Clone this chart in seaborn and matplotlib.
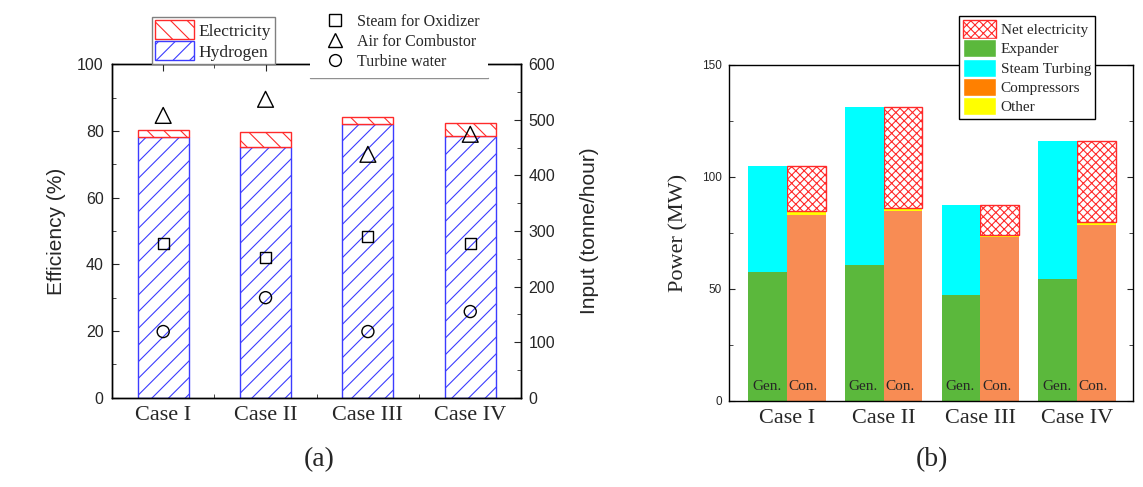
import numpy as np
import pandas as pd
import matplotlib
matplotlib.use('Agg')
import matplotlib.pyplot as plt
import seaborn as sns
from matplotlib.patches import Patch
from matplotlib.lines import Line2D
from matplotlib.ticker import MultipleLocator

# Dados
cases = ['Case I', 'Case II', 'Case III', 'Case IV']

# (a) eficiência (%) e entradas (tonne/hour)
hydrogen = [78.3, 75.1, 82.1, 78.6]
electricity = [2.0, 4.5, 2.2, 3.7]
steam_oxidizer = [277, 252, 290, 278]
air_combustor = [508, 537, 438, 474]
turbine_water = [119, 180, 119, 155]

# (b) potência (MW)
expander = [57.7, 60.9, 47.1, 54.6]
steam_turbing = [47.3, 70.5, 40.6, 61.6]
compressors = [83.1, 84.6, 73.4, 78.4]
other = [1.6, 1.4, 0.7, 1.5]
net_electricity = [20.3, 45.4, 13.6, 36.3]
sides = ['Gen.', 'Con.']

sns.set_style('ticks')
plt.rcParams['font.family'] = ['Liberation Sans', 'DejaVu Sans']
plt.rcParams['hatch.linewidth'] = 0.8
plt.rcParams['xtick.direction'] = 'in'
plt.rcParams['ytick.direction'] = 'in'
SERIF = ['Liberation Serif', 'DejaVu Serif']

blue = '#3c3cff'
red = '#ff2a2a'
green = '#5bb83c'
cyan = '#00ffff'
orange = '#f88c54'
yellow = '#ffff00'

fig = plt.figure(figsize=(11.43, 4.87), dpi=100)
ax1 = fig.add_axes([0.098, 0.1834, 0.3582, 0.6846])
axb = fig.add_axes([0.6378, 0.1766, 0.3535, 0.690])

# ---------- (a) ----------
df_a = pd.DataFrame({'case': cases, 'hydrogen': hydrogen, 'electricity': electricity})
sns.barplot(data=df_a, x='case', y='hydrogen', order=cases, width=0.5, errorbar=None,
            color='white', facecolor='white', edgecolor=blue, hatch='//', linewidth=1, ax=ax1)
sns.barplot(data=df_a, x='case', y='electricity', order=cases, width=0.5, errorbar=None,
            bottom=np.array(hydrogen), color='white', facecolor='white', edgecolor=red,
            hatch='\\\\', linewidth=1, ax=ax1)

ax2 = ax1.twinx()
sns.scatterplot(x=cases, y=steam_oxidizer, marker='s', s=64, facecolor='none',
                edgecolor='black', linewidth=1, ax=ax2, zorder=3)
sns.scatterplot(x=cases, y=air_combustor, marker='^', s=130, facecolor='none',
                edgecolor='black', linewidth=1, ax=ax2, zorder=3)
sns.scatterplot(x=cases, y=turbine_water, marker='o', s=75, facecolor='none',
                edgecolor='black', linewidth=1, ax=ax2, zorder=3)

ax1.set_ylim(0, 100)
ax1.yaxis.set_major_locator(MultipleLocator(20))
ax1.yaxis.set_minor_locator(MultipleLocator(10))
ax2.set_ylim(0, 600)
ax2.yaxis.set_major_locator(MultipleLocator(100))
ax2.yaxis.set_minor_locator(MultipleLocator(50))
ax1.set_xticks(range(len(cases)), labels=cases)
ax1.set_xticks(np.arange(0.5, len(cases) - 1, 1.0), minor=True)
ax1.set_xlim(-0.5, len(cases) - 0.5)

ax1.tick_params(axis='x', which='both', top=True, bottom=True, labelsize=16, pad=6)
ax1.tick_params(axis='x', which='major', length=5)
ax1.tick_params(axis='x', which='minor', length=3)
ax1.tick_params(axis='y', which='both', left=True, right=False, labelsize=11.5, pad=6)
ax1.tick_params(axis='y', which='major', length=5)
ax1.tick_params(axis='y', which='minor', length=3)
ax2.tick_params(axis='y', which='both', right=True, left=False, labelsize=11.5, pad=5)
ax2.tick_params(axis='y', which='major', length=5)
ax2.tick_params(axis='y', which='minor', length=3)
for lab in ax1.get_xticklabels():
    lab.set_fontfamily(SERIF)

ax1.set_xlabel('')
ax1.set_ylabel('Efficiency (%)', fontsize=15, labelpad=8)
ax2.set_ylabel('Input (tonne/hour)', fontsize=15, labelpad=18)
for ax in (ax1, ax2):
    for sp in ax.spines.values():
        sp.set_visible(True)
        sp.set_color('black')
        sp.set_linewidth(1)

# ---------- (b) ----------
df_b = pd.DataFrame({
    'case': cases * 2,
    'side': ['Gen.'] * 4 + ['Con.'] * 4,
    'expander': expander + [0] * 4,
    'steam': steam_turbing + [0] * 4,
    'compressors': [0] * 4 + compressors,
    'other': [0] * 4 + other,
    'net': [0] * 4 + net_electricity,
})
comp_arr = np.array(compressors)
other_top = comp_arr + np.array(other)

layers = [
    ('compressors', np.zeros(4), dict(facecolor=orange, linewidth=0)),
    ('other', comp_arr, dict(facecolor=yellow, linewidth=0)),
    ('net', other_top, dict(facecolor='white', edgecolor=red, hatch='xxxx', linewidth=1)),
    ('expander', np.zeros(4), dict(facecolor=green, linewidth=0)),
    ('steam', np.array(expander), dict(facecolor=cyan, linewidth=0)),
]
for col, bottom, style in layers:
    sns.barplot(data=df_b, x='case', y=col, hue='side', hue_order=sides, order=cases,
                palette=['black', 'black'], dodge=True, width=0.8, errorbar=None,
                bottom=bottom, legend=False, ax=axb, **style)

for i in range(len(cases)):
    axb.text(i - 0.21, 6.5, 'Gen.', ha='center', va='center', fontsize=11, family=SERIF)
    axb.text(i + 0.17, 6.5, 'Con.', ha='center', va='center', fontsize=11, family=SERIF)

axb.set_ylim(0, 150)
axb.set_xlim(-0.6, len(cases) - 0.42)
axb.yaxis.set_major_locator(MultipleLocator(50))
axb.yaxis.set_minor_locator(MultipleLocator(25))
axb.set_xticks(range(len(cases)), labels=cases)
axb.tick_params(axis='x', which='both', bottom=False, top=False, labelsize=16, pad=6)
axb.tick_params(axis='y', which='both', left=True, right=True, labelsize=8.5, pad=5)
axb.tick_params(axis='y', which='major', length=4)
axb.tick_params(axis='y', which='minor', length=3)
for lab in axb.get_xticklabels():
    lab.set_fontfamily(SERIF)
axb.set_xlabel('')
axb.set_ylabel('Power (MW)', fontsize=16, family=SERIF, labelpad=10)
for sp in axb.spines.values():
    sp.set_visible(True)
    sp.set_color('black')
    sp.set_linewidth(1)

# ---------- legendas ----------
h_leg = [Patch(facecolor='white', edgecolor=red, hatch='\\\\', linewidth=1),
         Patch(facecolor='white', edgecolor=blue, hatch='//', linewidth=1)]
leg1 = fig.legend(h_leg, ['Electricity', 'Hydrogen'], loc='upper left',
                  bbox_to_anchor=(152 / 1143, 1 - 17 / 487), borderaxespad=0,
                  prop={'family': SERIF, 'size': 12.5}, handlelength=2.2, handleheight=1.3,
                  labelspacing=0.1, handletextpad=0.3, borderpad=0.2,
                  fancybox=False, framealpha=1, edgecolor='#808080')

m_leg = [Line2D([], [], ls='none', marker='s', ms=8, mfc='none', mec='black', mew=1),
         Line2D([], [], ls='none', marker='^', ms=10.5, mfc='none', mec='black', mew=1),
         Line2D([], [], ls='none', marker='o', ms=8.5, mfc='none', mec='black', mew=1)]
leg2 = fig.legend(m_leg, ['Steam for Oxidizer', 'Air for Combustor', 'Turbine water'],
                  loc='upper left', bbox_to_anchor=(310 / 1143, 1 - 6 / 487), borderaxespad=0,
                  prop={'family': SERIF, 'size': 11.5}, handlelength=2.1,
                  labelspacing=0.25, handletextpad=0.37, borderpad=0.5,
                  fancybox=False, framealpha=1, facecolor='white', edgecolor='none')

b_leg = [Patch(facecolor='white', edgecolor=red, hatch='xxxx', linewidth=1),
         Patch(facecolor=green), Patch(facecolor=cyan),
         Patch(facecolor='#ff8000'), Patch(facecolor=yellow)]
leg3 = fig.legend(b_leg, ['Net electricity', 'Expander', 'Steam Turbing', 'Compressors', 'Other'],
                  loc='upper left', bbox_to_anchor=(959 / 1143, 1 - 16 / 487), borderaxespad=0,
                  prop={'family': SERIF, 'size': 11}, handlelength=2.2, handleheight=1.45,
                  labelspacing=0.08, handletextpad=0.28, borderpad=0.25,
                  fancybox=False, framealpha=1, edgecolor='black')
leg3.get_frame().set_linewidth(1)

fig.text(319 / 1143, 1 - 460 / 487, '(a)', ha='center', va='center', fontsize=20, family=SERIF)
fig.text(932 / 1143, 1 - 460 / 487, '(b)', ha='center', va='center', fontsize=20, family=SERIF)

# linha cinza sob a legenda dos marcadores
fig.canvas.draw()
bb = leg2.get_window_extent().transformed(fig.transFigure.inverted())
fig.add_artist(Line2D([bb.x0, bb.x1], [bb.y0, bb.y0], transform=fig.transFigure,
                      color='#909090', linewidth=1))

fig.savefig('out.png', dpi=100)
